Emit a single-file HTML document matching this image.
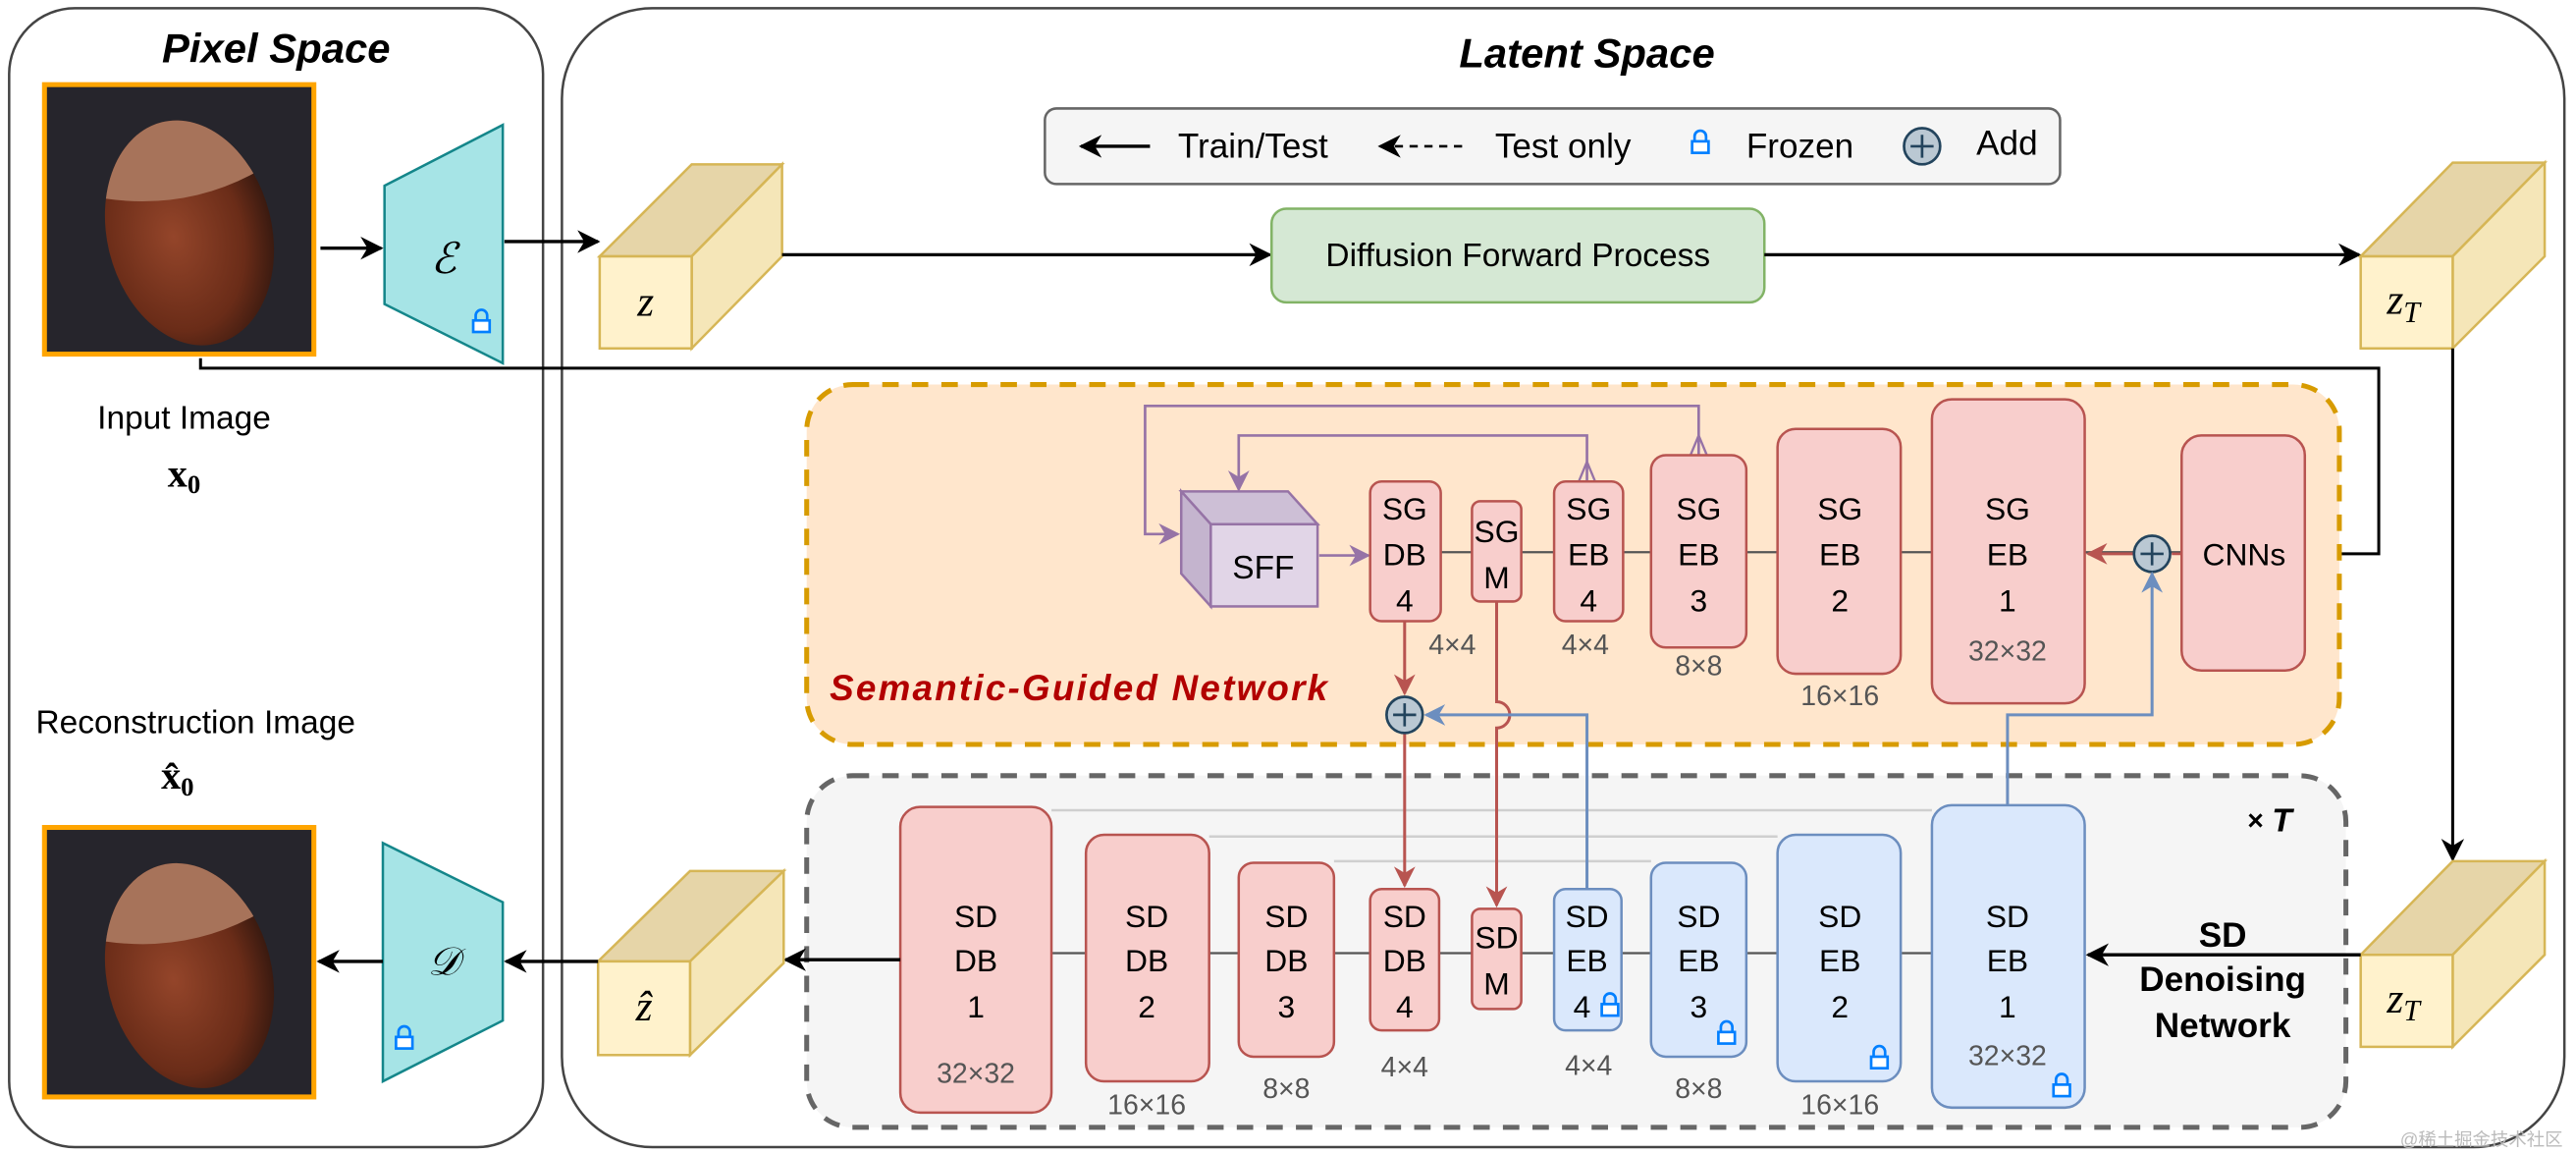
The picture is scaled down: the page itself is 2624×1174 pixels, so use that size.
<!DOCTYPE html>
<html><head><meta charset="utf-8"><style>
html,body{margin:0;padding:0;background:#fff;}
svg{display:block;}
text{font-family:"Liberation Sans",Arial,sans-serif;}
text.m{font-family:"Liberation Serif","DejaVu Serif",serif;font-style:italic;}
text.mb{font-family:"Liberation Serif","DejaVu Serif",serif;font-weight:bold;}
</style></head><body>
<svg xmlns="http://www.w3.org/2000/svg" width="2624" height="1174" viewBox="0 0 1568 701.6">
<defs>
<marker id="abk" viewBox="0 0 10 10" refX="9" refY="5" markerWidth="14" markerHeight="14" orient="auto" markerUnits="userSpaceOnUse"><path d="M0,0 L10,5 L0,10 L3,5 Z" fill="#000"/></marker>
<marker id="ar" viewBox="0 0 10 10" refX="9" refY="5" markerWidth="13" markerHeight="13" orient="auto" markerUnits="userSpaceOnUse"><path d="M0,0 L10,5 L0,10 L3,5 Z" fill="#b85450"/></marker>
<marker id="abl" viewBox="0 0 10 10" refX="9" refY="5" markerWidth="13" markerHeight="13" orient="auto" markerUnits="userSpaceOnUse"><path d="M0,0 L10,5 L0,10 L3,5 Z" fill="#6c8ebf"/></marker>
<marker id="ap" viewBox="0 0 10 10" refX="9" refY="5" markerWidth="13" markerHeight="13" orient="auto" markerUnits="userSpaceOnUse"><path d="M0,0 L10,5 L0,10 L3,5 Z" fill="#9673a6"/></marker>
<radialGradient id="nut" cx="0.4" cy="0.5" r="0.6"><stop offset="0" stop-color="#94452a"/><stop offset="0.7" stop-color="#6a2c18"/><stop offset="1" stop-color="#3a1a10"/></radialGradient>
<g id="lock"><path d="M-3.5,0 v-3 a3.5,3.5 0 0 1 7,0 v3" fill="none" stroke="#007fff" stroke-width="1.6"/><rect x="-5" y="0" width="10" height="7" fill="#fff" stroke="#007fff" stroke-width="1.6"/></g>
<g id="plus"><circle r="11" fill="#bac8d3" stroke="#23445d" stroke-width="1.6"/><path d="M-7,0 H7 M0,-7 V7" stroke="#23445d" stroke-width="1.6"/></g>
<clipPath id="nc"><ellipse cx="0" cy="0" rx="52" ry="72"/></clipPath>
<g id="nutimg"><rect x="0" y="0" width="167" height="167" fill="#26252c"/><g transform="translate(90,92) rotate(-14)"><ellipse rx="52" ry="72" fill="url(#nut)"/><g clip-path="url(#nc)"><path d="M-60,-40 Q0,-10 60,-30 L60,-80 L-60,-80 Z" fill="#a7735a"/></g></g></g>
</defs>

<rect x="5.5" y="5" width="325" height="693" rx="40" fill="none" stroke="#444" stroke-width="1.5"/>
<rect x="342" y="5" width="1219" height="693" rx="55" fill="none" stroke="#444" stroke-width="1.5"/>
<text x="168" y="38" font-size="25" font-weight="bold" font-style="italic" text-anchor="middle">Pixel Space</text>
<text x="966" y="41" font-size="25" font-weight="bold" font-style="italic" text-anchor="middle">Latent Space</text>

<rect x="636" y="66" width="618" height="46" rx="7" fill="#f5f5f5" stroke="#666" stroke-width="1.5"/>
<line x1="700" y1="89" x2="658" y2="89" stroke="#000" stroke-width="2" marker-end="url(#abk)"/>
<text x="717" y="96" font-size="21">Train/Test</text>
<line x1="890" y1="89" x2="840" y2="89" stroke="#000" stroke-width="1.6" stroke-dasharray="5,4" marker-end="url(#abk)"/>
<text x="910" y="96" font-size="21">Test only</text>
<use href="#lock" x="1035" y="86"/>
<text x="1063" y="96" font-size="21">Frozen</text>
<use href="#plus" x="1170" y="89"/>
<text x="1203" y="94" font-size="21">Add</text>

<rect x="25.5" y="50" width="167" height="167" fill="#ffa500"/>
<use href="#nutimg" transform="translate(28.5,53) scale(0.964)"/>
<text x="112" y="261" font-size="20" text-anchor="middle">Input Image</text>
<text class="mb" x="112" y="296" font-size="24" text-anchor="middle">x<tspan font-size="16" dy="4">0</tspan></text>

<polygon points="234,113 306,76 306,221 234,185" fill="#a6e4e6" stroke="#14868a" stroke-width="1.5"/>
<text class="m" x="270" y="166" font-size="26" text-anchor="middle">ℰ</text>
<use href="#lock" x="293" y="195"/>
<line x1="195" y1="151" x2="232" y2="151" stroke="#000" stroke-width="2" marker-end="url(#abk)"/>
<line x1="307" y1="147" x2="364" y2="147" stroke="#000" stroke-width="2" marker-end="url(#abk)"/>

<g stroke="#d6b656" stroke-width="1.5">
<polygon points="365,156 421,100 476,100 421,156" fill="#e6d5a8"/>
<polygon points="421,156 476,100 476,156 421,212" fill="#f5e6b8"/>
<rect x="365" y="156" width="56" height="56" fill="#fff2cc"/>
</g>
<text class="m" x="393" y="192" font-size="26" text-anchor="middle">z</text>

<line x1="476" y1="155" x2="773" y2="155" stroke="#000" stroke-width="2" marker-end="url(#abk)"/>
<rect x="774" y="127" width="300" height="57" rx="9" fill="#d5e8d4" stroke="#82b366" stroke-width="1.5"/>
<text x="924" y="162" font-size="20" text-anchor="middle">Diffusion Forward Process</text>
<line x1="1074" y1="155" x2="1436" y2="155" stroke="#000" stroke-width="2" marker-end="url(#abk)"/>

<g stroke="#d6b656" stroke-width="1.5">
<polygon points="1437,156 1493,99 1549,99 1493,156" fill="#e6d5a8"/>
<polygon points="1493,156 1549,99 1549,156 1493,212" fill="#f5e6b8"/>
<rect x="1437" y="156" width="56" height="56" fill="#fff2cc"/>
</g>
<text class="m" x="1463" y="191" font-size="26" text-anchor="middle">z<tspan font-size="18" dy="5">T</tspan></text>

<polyline points="122,218 122,224 1448,224 1448,337 1406,337" fill="none" stroke="#000" stroke-width="1.8" marker-end="url(#abk)"/>
<line x1="1493" y1="212" x2="1493" y2="523" stroke="#000" stroke-width="1.8" marker-end="url(#abk)"/>

<rect x="491" y="234" width="933" height="219" rx="28" fill="#ffe6cc" stroke="#d79b00" stroke-width="3" stroke-dasharray="10,8"/>
<rect x="491" y="472" width="937" height="214" rx="28" fill="#f5f5f5" stroke="#666" stroke-width="3" stroke-dasharray="10,8"/>

<line x1="877" y1="336" x2="1328" y2="336" stroke="#555" stroke-width="1.3"/>
<polyline points="1034,277 1034,247 697,247 697,325 717,325" fill="none" stroke="#9673a6" stroke-width="1.6" marker-end="url(#ap)"/>
<path d="M1029,277 L1034,265 L1039,277" fill="none" stroke="#9673a6" stroke-width="1.4"/>
<polyline points="966,293 966,265 754,265 754,298" fill="none" stroke="#9673a6" stroke-width="1.6" marker-end="url(#ap)"/>
<path d="M961,293 L966,281 L971,293" fill="none" stroke="#9673a6" stroke-width="1.4"/>

<g stroke="#9673a6" stroke-width="1.5">
<polygon points="719,299 784,299 802,319 737,319" fill="#cdbfd6"/>
<polygon points="719,299 737,319 737,369 719,349" fill="#c4b4ce"/>
<rect x="737" y="319" width="65" height="50" fill="#e1d5e7"/>
</g>
<text x="769" y="352" font-size="20" text-anchor="middle">SFF</text>
<line x1="803" y1="338" x2="833" y2="338" stroke="#9673a6" stroke-width="1.6" marker-end="url(#ap)"/>

<g fill="#f8cecc" stroke="#b85450" stroke-width="1.5">
<rect x="834" y="293" width="43" height="85" rx="7"/>
<rect x="896" y="305" width="30" height="61" rx="5"/>
<rect x="946" y="293" width="42" height="85" rx="7"/>
<rect x="1005" y="277" width="58" height="117" rx="9"/>
<rect x="1082" y="261" width="75" height="149" rx="11"/>
<rect x="1176" y="243" width="93" height="185" rx="12"/>
<rect x="1328" y="265" width="75" height="143" rx="12"/>
</g>
<g font-size="19" text-anchor="middle">
<text x="855" y="316">SG</text><text x="855" y="344">DB</text><text x="855" y="372">4</text>
<text x="911" y="330">SG</text><text x="911" y="358">M</text>
<text x="967" y="316">SG</text><text x="967" y="344">EB</text><text x="967" y="372">4</text>
<text x="1034" y="316">SG</text><text x="1034" y="344">EB</text><text x="1034" y="372">3</text>
<text x="1120" y="316">SG</text><text x="1120" y="344">EB</text><text x="1120" y="372">2</text>
<text x="1222" y="316">SG</text><text x="1222" y="344">EB</text><text x="1222" y="372">1</text>
<text x="1366" y="344">CNNs</text>
</g>
<g font-size="17" fill="#555" text-anchor="middle">
<text x="884" y="398">4×4</text><text x="965" y="398">4×4</text><text x="1034" y="411">8×8</text>
<text x="1120" y="429">16×16</text><text x="1222" y="402">32×32</text>
</g>
<line x1="1328" y1="337" x2="1322" y2="337" stroke="#b85450" stroke-width="1.6"/>
<line x1="1299" y1="337" x2="1271" y2="337" stroke="#b85450" stroke-width="1.8" marker-end="url(#ar)"/>
<use href="#plus" x="1310" y="337"/>

<text x="505" y="426" font-size="22" font-weight="bold" font-style="italic" fill="#b20000" textLength="303">Semantic-Guided Network</text>

<g stroke="#cfcfcf" stroke-width="1.5">
<line x1="640" y1="493" x2="1176" y2="493"/>
<line x1="736" y1="509" x2="1082" y2="509"/>
<line x1="812" y1="524" x2="1005" y2="524"/>
</g>
<line x1="640" y1="580" x2="1176" y2="580" stroke="#555" stroke-width="1.3"/>

<line x1="855" y1="378" x2="855" y2="422" stroke="#b85450" stroke-width="1.8" marker-end="url(#ar)"/>
<line x1="855" y1="446" x2="855" y2="539" stroke="#b85450" stroke-width="1.8" marker-end="url(#ar)"/>
<path d="M911,366 V427 A8,8 0 0 1 911,443 V551" fill="none" stroke="#b85450" stroke-width="1.8" marker-end="url(#ar)"/>
<polyline points="966,541 966,435 868,435" fill="none" stroke="#6c8ebf" stroke-width="1.8" marker-end="url(#abl)"/>
<polyline points="1222,490 1222,435 1310,435 1310,349" fill="none" stroke="#6c8ebf" stroke-width="1.8" marker-end="url(#abl)"/>
<use href="#plus" x="855" y="435"/>

<g fill="#f8cecc" stroke="#b85450" stroke-width="1.5">
<rect x="548" y="491" width="92" height="186" rx="12"/>
<rect x="661" y="508" width="75" height="150" rx="11"/>
<rect x="754" y="525" width="58" height="118" rx="9"/>
<rect x="834" y="541" width="42" height="86" rx="7"/>
<rect x="896" y="553" width="30" height="61" rx="5"/>
</g>
<g fill="#dae8fc" stroke="#6c8ebf" stroke-width="1.5">
<rect x="946" y="541" width="41" height="86" rx="7"/>
<rect x="1005" y="525" width="58" height="118" rx="9"/>
<rect x="1082" y="508" width="75" height="150" rx="11"/>
<rect x="1176" y="490" width="93" height="184" rx="12"/>
</g>
<g font-size="19" text-anchor="middle">
<text x="594" y="564">SD</text><text x="594" y="591">DB</text><text x="594" y="619">1</text>
<text x="698" y="564">SD</text><text x="698" y="591">DB</text><text x="698" y="619">2</text>
<text x="783" y="564">SD</text><text x="783" y="591">DB</text><text x="783" y="619">3</text>
<text x="855" y="564">SD</text><text x="855" y="591">DB</text><text x="855" y="619">4</text>
<text x="911" y="577">SD</text><text x="911" y="605">M</text>
<text x="966" y="564">SD</text><text x="966" y="591">EB</text><text x="963" y="619">4</text>
<text x="1034" y="564">SD</text><text x="1034" y="591">EB</text><text x="1034" y="619">3</text>
<text x="1120" y="564">SD</text><text x="1120" y="591">EB</text><text x="1120" y="619">2</text>
<text x="1222" y="564">SD</text><text x="1222" y="591">EB</text><text x="1222" y="619">1</text>
</g>
<g font-size="17" fill="#555" text-anchor="middle">
<text x="594" y="659">32×32</text><text x="698" y="678">16×16</text><text x="783" y="668">8×8</text>
<text x="855" y="655">4×4</text><text x="967" y="654">4×4</text><text x="1034" y="668">8×8</text>
<text x="1120" y="678">16×16</text><text x="1222" y="648">32×32</text>
</g>
<use href="#lock" x="980" y="611"/>
<use href="#lock" x="1051" y="628"/>
<use href="#lock" x="1144" y="643"/>
<use href="#lock" x="1255" y="660"/>

<text x="1368" y="505" font-size="17" font-weight="bold">×</text>
<text x="1383" y="506" font-size="20" font-weight="bold" font-style="italic">T</text>

<g stroke="#d6b656" stroke-width="1.5">
<polygon points="1437,581 1493,524 1549,524 1493,581" fill="#e6d5a8"/>
<polygon points="1493,581 1549,524 1549,581 1493,637" fill="#f5e6b8"/>
<rect x="1437" y="581" width="56" height="56" fill="#fff2cc"/>
</g>
<text class="m" x="1463" y="616" font-size="26" text-anchor="middle">z<tspan font-size="18" dy="5">T</tspan></text>
<line x1="1437" y1="581" x2="1271" y2="581" stroke="#000" stroke-width="2" marker-end="url(#abk)"/>
<g font-size="21" font-weight="bold" text-anchor="middle">
<text x="1353" y="576">SD</text><text x="1353" y="603">Denoising</text><text x="1353" y="631">Network</text>
</g>

<line x1="548" y1="584" x2="478" y2="584" stroke="#000" stroke-width="2" marker-end="url(#abk)"/>
<g stroke="#d6b656" stroke-width="1.5">
<polygon points="364,585 420,530 477,530 420,585" fill="#e6d5a8"/>
<polygon points="420,585 477,530 477,586 420,642" fill="#f5e6b8"/>
<rect x="364" y="585" width="56" height="57" fill="#fff2cc"/>
</g>
<text class="m" x="392" y="621" font-size="26" text-anchor="middle">ẑ</text>
<line x1="364" y1="585" x2="308" y2="585" stroke="#000" stroke-width="2" marker-end="url(#abk)"/>

<polygon points="233,513 306,549 306,621 233,658" fill="#a6e4e6" stroke="#14868a" stroke-width="1.5"/>
<text class="m" x="270" y="593" font-size="24" text-anchor="middle">𝒟</text>
<use href="#lock" x="246" y="631"/>
<line x1="233" y1="585" x2="194" y2="585" stroke="#000" stroke-width="2" marker-end="url(#abk)"/>

<rect x="25.5" y="502" width="167" height="167" fill="#ffa500"/>
<use href="#nutimg" transform="translate(28.5,505) scale(0.964)"/>
<text x="119" y="446" font-size="20" text-anchor="middle">Reconstruction Image</text>
<text class="mb" x="108" y="480" font-size="24" text-anchor="middle">x̂<tspan font-size="16" dy="4">0</tspan></text>

<text x="1560" y="697" font-size="11" fill="#bbb" text-anchor="end" font-family="Liberation Sans,Noto Sans CJK SC,sans-serif">@稀土掘金技术社区</text>
</svg>
</body></html>
